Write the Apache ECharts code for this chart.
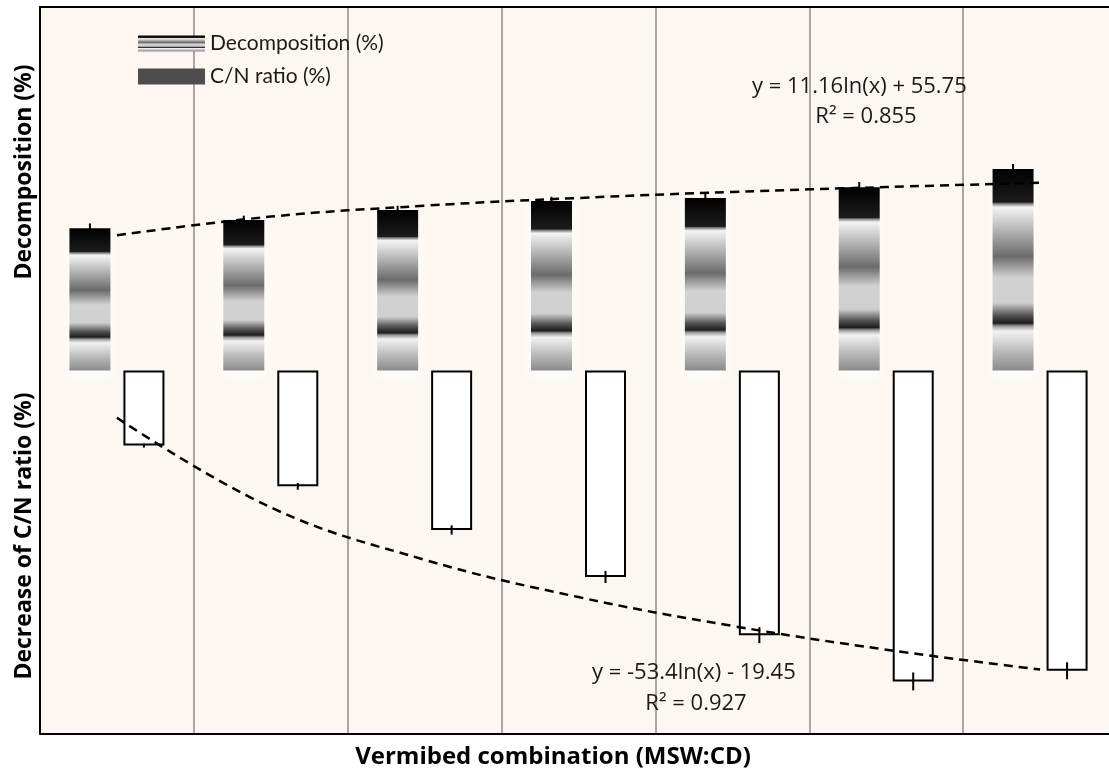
<!DOCTYPE html>
<html>
<head>
<meta charset="utf-8">
<title>Decomposition and decrease of C/N ratio</title>
<script src="https://cdn.jsdelivr.net/npm/echarts@6/dist/echarts.min.js"></script>
<style>
  html, body { margin: 0; padding: 0; background: #fff; }
  #chart { width: 1109px; height: 772px; }
</style>
</head>
<body>
<div id="chart"></div>
<script>
// values (no tick labels are shown on either axis)
var categories = ['V1', 'V2', 'V3', 'V4', 'V5', 'V6', 'V7'];
var decomposition = [58.7, 62.1, 66.2, 69.9, 71.2, 75.6, 83.2];
var decompositionErr = [2.0, 1.8, 1.8, 1.8, 1.8, 2.2, 2.0];
var cnDecrease = [-31.0, -47.8, -65.8, -85.2, -109.2, -128.3, -123.9];
var cnErr = [0.8, 1.4, 1.9, 2.5, 3.3, 3.7, 3.5];
// log trend lines, read where they cross each category centre
var decompTrend = [55.8, 63.5, 68.0, 71.2, 73.7, 75.7, 77.5];
var cnTrend = [-19.5, -56.5, -78.1, -93.5, -105.4, -115.2, -123.4];

var BAR_W = 41;
var BAR_GAP = 13;
var OFFSET = (BAR_W + BAR_GAP) / 2;

var chart = echarts.init(document.getElementById('chart'));

// striped grey fill of the decomposition bars
var decompFill = new echarts.graphic.LinearGradient(0, 0, 0, 1, [
  { offset: 0, color: '#000000' },
  { offset: 0.165, color: '#1c1c1c' },
  { offset: 0.172, color: '#7a7a7a' },
  { offset: 0.19, color: '#f4f4f4' },
  { offset: 0.435, color: '#6b6b6b' },
  { offset: 0.54, color: '#d2d2d2' },
  { offset: 0.665, color: '#cfcfcf' },
  { offset: 0.725, color: '#555555' },
  { offset: 0.765, color: '#1e1e1e' },
  { offset: 0.78, color: '#9a9a9a' },
  { offset: 0.805, color: '#f2f2f2' },
  { offset: 0.9, color: '#bdbdbd' },
  { offset: 1, color: '#8a8a8a' }
]);

function errorData(values, errs) {
  return values.map(function (v, i) { return [i, v - errs[i], v + errs[i]]; });
}

function errorRender(offset) {
  return function (params, api) {
    var lo = api.coord([api.value(0), api.value(1)]);
    var hi = api.coord([api.value(0), api.value(2)]);
    var x = lo[0] + offset;
    return {
      type: 'line',
      shape: { x1: x, y1: lo[1], x2: x, y2: hi[1] },
      style: { stroke: '#000', lineWidth: 2 }
    };
  };
}

var titleFont = '"Open Sans", "DejaVu Sans", sans-serif';
var eqStyle = { fill: '#1a1a1a', fontSize: 22, fontFamily: titleFont };
var frameLine = { show: true, onZero: false, lineStyle: { color: '#000', width: 2 } };

var option = {
  backgroundColor: '#ffffff',
  animation: false,
  grid: {
    left: 40, top: 7, width: 1077, height: 727,
    outerBoundsMode: 'none',
    show: true,
    backgroundColor: '#fcf7f1',
    borderWidth: 0
  },
  legend: {
    orient: 'vertical',
    left: 138,
    top: 33,
    padding: 0,
    itemWidth: 67,
    itemHeight: 16,
    itemGap: 12,
    textStyle: {
      fontFamily: 'Lato, "Open Sans", sans-serif',
      fontSize: 21,
      lineHeight: 20,
      color: '#1a1a1a'
    },
    data: [
      { name: 'Decomposition (%)', icon: 'rect', itemStyle: { shadowBlur: 0, shadowColor: 'transparent' } },
      { name: 'C/N ratio (%)', icon: 'rect', itemStyle: { color: '#4d4d4d', borderWidth: 0 } }
    ]
  },
  xAxis: [
    {
      type: 'category',
      data: categories,
      position: 'bottom',
      axisLine: frameLine,
      axisTick: { show: false },
      axisLabel: { show: false },
      splitLine: { show: true, lineStyle: { color: '#8c8c8c', width: 1.5 } }
    },
    {
      // top frame line only
      type: 'category',
      data: categories,
      position: 'top',
      axisLine: frameLine,
      axisTick: { show: false },
      axisLabel: { show: false },
      splitLine: { show: false }
    }
  ],
  yAxis: {
    type: 'value',
    min: -150,
    max: 150,
    position: 'left',
    axisLine: frameLine,
    axisTick: { show: false },
    axisLabel: { show: false },
    splitLine: { show: false }
  },
  graphic: [
    { type: 'text', x: 24, y: 172, rotation: Math.PI / 2,
      style: { text: 'Decomposition (%)', fill: '#000', fontSize: 23, fontWeight: 'bold', fontFamily: titleFont, align: 'center', verticalAlign: 'middle' } },
    { type: 'text', x: 24, y: 536, rotation: Math.PI / 2,
      style: { text: 'Decrease of C/N ratio (%)', fill: '#000', fontSize: 23, fontWeight: 'bold', fontFamily: titleFont, align: 'center', verticalAlign: 'middle' } },
    { type: 'text', x: 553, y: 757,
      style: { text: 'Vermibed combination (MSW:CD)', fill: '#000', fontSize: 24, fontWeight: 'bold', fontFamily: titleFont, align: 'center', verticalAlign: 'middle' } },
    { type: 'text', x: 752, y: 87, z: 10,
      style: Object.assign({ text: 'y = 11.16ln(x) + 55.75', align: 'left', verticalAlign: 'middle' }, eqStyle) },
    { type: 'text', x: 866, y: 117, z: 10,
      style: Object.assign({ text: 'R² = 0.855', align: 'center', verticalAlign: 'middle' }, eqStyle) },
    { type: 'text', x: 592, y: 673, z: 10,
      style: Object.assign({ text: 'y = -53.4ln(x) - 19.45', align: 'left', verticalAlign: 'middle' }, eqStyle) },
    { type: 'text', x: 696, y: 704, z: 10,
      style: Object.assign({ text: 'R² = 0.927', align: 'center', verticalAlign: 'middle' }, eqStyle) }
  ],
  series: [
    {
      name: 'Decomposition (%)',
      type: 'bar',
      barWidth: BAR_W,
      barGap: (BAR_GAP / BAR_W * 100) + '%',
      data: decomposition,
      itemStyle: {
        color: decompFill,
        shadowColor: 'rgba(255,255,255,1)',
        shadowBlur: 10,
        shadowOffsetY: 6
      }
    },
    {
      name: 'C/N ratio (%)',
      type: 'bar',
      barWidth: BAR_W,
      data: cnDecrease,
      itemStyle: { color: '#ffffff', borderColor: '#000', borderWidth: 2 }
    },
    {
      name: 'decomposition error',
      type: 'custom',
      renderItem: errorRender(-OFFSET),
      encode: { x: 0, y: [1, 2] },
      data: errorData(decomposition, decompositionErr),
      z: 4
    },
    {
      name: 'C/N error',
      type: 'custom',
      renderItem: errorRender(OFFSET),
      encode: { x: 0, y: [1, 2] },
      data: errorData(cnDecrease, cnErr),
      z: 4
    },
    {
      name: 'decomposition trend',
      type: 'line',
      data: decompTrend,
      smooth: 0.4,
      symbol: 'none',
      z: 5,
      lineStyle: { color: '#000', width: 2.5, type: [9, 6] }
    },
    {
      name: 'C/N trend',
      type: 'line',
      data: cnTrend,
      smooth: 0.4,
      symbol: 'none',
      z: 5,
      lineStyle: { color: '#000', width: 2.5, type: [9, 6] }
    }
  ]
};

chart.setOption(option);
window.addEventListener('resize', function () { chart.resize(); });
</script>
</body>
</html>
